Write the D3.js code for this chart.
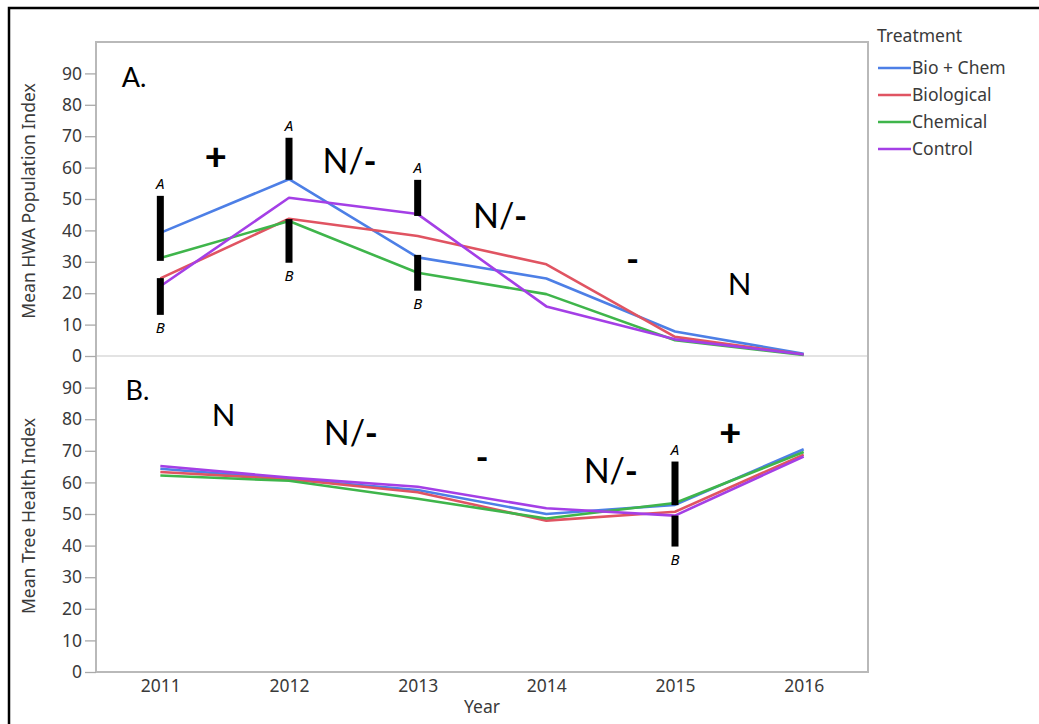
<!DOCTYPE html>
<html>
<head>
<meta charset="utf-8">
<script src="https://cdn.jsdelivr.net/npm/d3@7"></script>
<style>
  body { margin: 0; background: #fff; }
  svg { display: block; }
  .tick text { font-family: "Noto Sans", sans-serif; fill: #3a3a3a; }
</style>
</head>
<body>
<div id="chart"></div>
<script>
// HWA population index and tree health index by treatment, 2011-2016

const years = [2011, 2012, 2013, 2014, 2015, 2016];
const yTicks = [0, 10, 20, 30, 40, 50, 60, 70, 80, 90];
const treatments = ["Bio + Chem", "Biological", "Chemical", "Control"];
const colors = ["#4d7fe6", "#e05462", "#3fb54b", "#a43fe6"];

// Panel A: Mean HWA Population Index
const hwaBioChem   = [39.2, 56.3, 31.4, 24.7, 7.8, 0.7];
const hwaBiological = [24.7, 43.7, 38.2, 29.2, 6.1, 0.5];
const hwaChemical  = [31.2, 43.0, 26.5, 19.7, 5.0, 0.3];
const hwaControl   = [22.2, 50.4, 45.2, 15.8, 5.3, 0.5];

// Panel B: Mean Tree Health Index
const healthBioChem   = [64.3, 61.1, 57.6, 50.0, 52.9, 70.5];
const healthBiological = [63.3, 61.0, 56.9, 47.9, 50.7, 68.8];
const healthChemical  = [62.2, 60.5, 54.8, 48.6, 53.5, 69.6];
const healthControl   = [65.2, 61.5, 58.6, 51.8, 49.5, 68.2];

// significance bars: panel, year, A bar [lo, hi], B bar [lo, hi]
const sigBars = [
  { panel: 0, year: 2011, a: [30.3, 51.0], b: [13.1, 24.8] },
  { panel: 0, year: 2012, a: [56.1, 69.5], b: [29.7, 43.6] },
  { panel: 0, year: 2013, a: [44.6, 56.1], b: [20.8, 32.2] },
  { panel: 1, year: 2015, a: [52.8, 66.6], b: [39.7, 49.5] }
];

// trend annotations: panel, text, x (year), y (value), anchor
const notes = [
  { panel: 0, text: "A.",  year: 2010.70, value: 85.7, anchor: "start",  size: 27 },
  { panel: 0, text: "+",   year: 2011.43, value: 59.2, anchor: "middle", size: 38 },
  { panel: 0, text: "N/-", year: 2012.26, value: 58.3, anchor: "start",  size: 34 },
  { panel: 0, text: "N/-", year: 2013.43, value: 40.8, anchor: "start",  size: 34 },
  { panel: 0, text: "-",   year: 2014.67, value: 27.0, anchor: "middle", size: 34 },
  { panel: 0, text: "N",   year: 2015.41, value: 19.4, anchor: "start",  size: 31 },
  { panel: 1, text: "B.",  year: 2010.73, value: 86.1, anchor: "start",  size: 27 },
  { panel: 1, text: "N",   year: 2011.40, value: 77.8, anchor: "start",  size: 31 },
  { panel: 1, text: "N/-", year: 2012.27, value: 71.8, anchor: "start",  size: 34 },
  { panel: 1, text: "-",   year: 2013.50, value: 64.2, anchor: "middle", size: 34 },
  { panel: 1, text: "N/-", year: 2014.29, value: 59.8, anchor: "start",  size: 34 },
  { panel: 1, text: "+",   year: 2015.43, value: 71.5, anchor: "middle", size: 38 }
];

const panels = [
  { title: "Mean HWA Population Index", series: [hwaBioChem, hwaBiological, hwaChemical, hwaControl] },
  { title: "Mean Tree Health Index", series: [healthBioChem, healthBiological, healthChemical, healthControl] }
];

const W = 1039, H = 724;
const frame = { left: 96, right: 868, top: 42, bottom: 672 };
const split = 356;
const labelFont = "Noto Sans, sans-serif";
const labelSize = 17.5;

const svg = d3.select("#chart").append("svg")
  .attr("width", W)
  .attr("height", H);

svg.append("rect").attr("width", W).attr("height", H).attr("fill", "#fff");

// outer black border (runs off the right and bottom edges)
svg.append("rect")
  .attr("x", 9).attr("y", 8)
  .attr("width", W + 20).attr("height", H + 20)
  .attr("fill", "none")
  .attr("stroke", "#000")
  .attr("stroke-width", 2.5);

const x = d3.scalePoint().domain(years).range([frame.left, frame.right]).padding(0.5);
const xLin = d3.scaleLinear().domain([2011, 2016]).range([x(2011), x(2016)]);

const yScales = [
  d3.scaleLinear().domain([0, 100]).range([split, frame.top]),
  d3.scaleLinear().domain([0, 100]).range([frame.bottom, split])
];

const color = d3.scaleOrdinal().domain(treatments).range(colors);

// frame + divider
svg.append("rect")
  .attr("x", frame.left).attr("y", frame.top)
  .attr("width", frame.right - frame.left)
  .attr("height", frame.bottom - frame.top)
  .attr("fill", "none")
  .attr("stroke", "#b9b9b9")
  .attr("stroke-width", 2);

svg.append("line")
  .attr("x1", frame.left + 1).attr("x2", frame.right - 1)
  .attr("y1", split).attr("y2", split)
  .attr("stroke", "#e3e3e3")
  .attr("stroke-width", 2);

panels.forEach((p, i) => {
  const y = yScales[i];

  // y axis
  const ax = svg.append("g")
    .attr("transform", `translate(${frame.left},0)`)
    .call(d3.axisLeft(y).tickValues(yTicks).tickSize(11).tickPadding(3));
  ax.select(".domain").remove();
  ax.selectAll(".tick line").attr("stroke", "#aaaaaa").attr("stroke-width", 1.3);
  ax.selectAll(".tick text").attr("font-size", labelSize);

  // axis title
  svg.append("text")
    .attr("transform", `translate(35,${(y(0) + y(100)) / 2 + 2}) rotate(-90)`)
    .attr("text-anchor", "middle")
    .attr("font-family", labelFont)
    .attr("font-size", labelSize)
    .attr("fill", "#3a3a3a")
    .text(p.title);

  // lines
  const line = d3.line()
    .x((d, k) => xLin(years[k]))
    .y(d => y(d));

  svg.append("g")
    .selectAll("path")
    .data(p.series)
    .join("path")
    .attr("fill", "none")
    .attr("stroke", (d, k) => color(treatments[k]))
    .attr("stroke-width", 2.6)
    .attr("stroke-linejoin", "round")
    .attr("d", line);

  // significance bars and letters
  const bars = sigBars.filter(d => d.panel === i);
  const g = svg.append("g");
  bars.forEach(b => {
    const cx = xLin(b.year);
    [b.a, b.b].forEach(r => {
      g.append("rect")
        .attr("x", cx - 3.5)
        .attr("width", 7)
        .attr("y", y(r[1]))
        .attr("height", y(r[0]) - y(r[1]))
        .attr("fill", "#000");
    });
    g.append("text")
      .attr("x", cx).attr("y", y(b.a[1]) - 7)
      .attr("text-anchor", "middle")
      .attr("font-family", labelFont)
      .attr("font-style", "italic")
      .attr("font-size", 15)
      .text("A");
    g.append("text")
      .attr("x", cx).attr("y", y(b.b[0]) + 18)
      .attr("text-anchor", "middle")
      .attr("font-family", labelFont)
      .attr("font-style", "italic")
      .attr("font-size", 15)
      .text("B");
  });

  // trend annotations
  notes.filter(d => d.panel === i).forEach(n => {
    const t = svg.append("text")
      .attr("x", xLin(n.year))
      .attr("y", y(n.value))
      .attr("text-anchor", n.anchor)
      .attr("font-family", "Lato, sans-serif")
      .attr("font-size", n.size)
      .attr("fill", "#000");
    if (n.text.endsWith("-")) {
      t.append("tspan").text(n.text.slice(0, -1));
      t.append("tspan").attr("font-weight", 900).text("-");
    } else if (n.text === "+") {
      t.attr("font-weight", 900).text(n.text);
    } else {
      t.text(n.text);
    }
  });
});

// x axis
const xAxis = svg.append("g")
  .attr("transform", `translate(0,${frame.bottom})`)
  .call(d3.axisBottom(x).tickSize(0).tickPadding(8));
xAxis.select(".domain").remove();
xAxis.selectAll(".tick text").attr("font-size", labelSize);

svg.append("text")
  .attr("x", (frame.left + frame.right) / 2)
  .attr("y", 713)
  .attr("text-anchor", "middle")
  .attr("font-family", labelFont)
  .attr("font-size", labelSize)
  .attr("fill", "#3a3a3a")
  .text("Year");

// legend
const legend = svg.append("g").attr("transform", "translate(877,0)");
legend.append("text")
  .attr("x", 0).attr("y", 42)
  .attr("font-family", labelFont)
  .attr("font-size", labelSize)
  .attr("fill", "#3a3a3a")
  .text("Treatment");

const items = legend.selectAll("g.item")
  .data(treatments)
  .join("g")
  .attr("class", "item")
  .attr("transform", (d, k) => `translate(0,${68 + k * 27})`);

items.append("line")
  .attr("x1", 1).attr("x2", 34)
  .attr("stroke", d => color(d))
  .attr("stroke-width", 2.6);

items.append("text")
  .attr("x", 35).attr("y", 6)
  .attr("font-family", labelFont)
  .attr("font-size", labelSize)
  .attr("fill", "#3a3a3a")
  .text(d => d);
</script>
</body>
</html>
